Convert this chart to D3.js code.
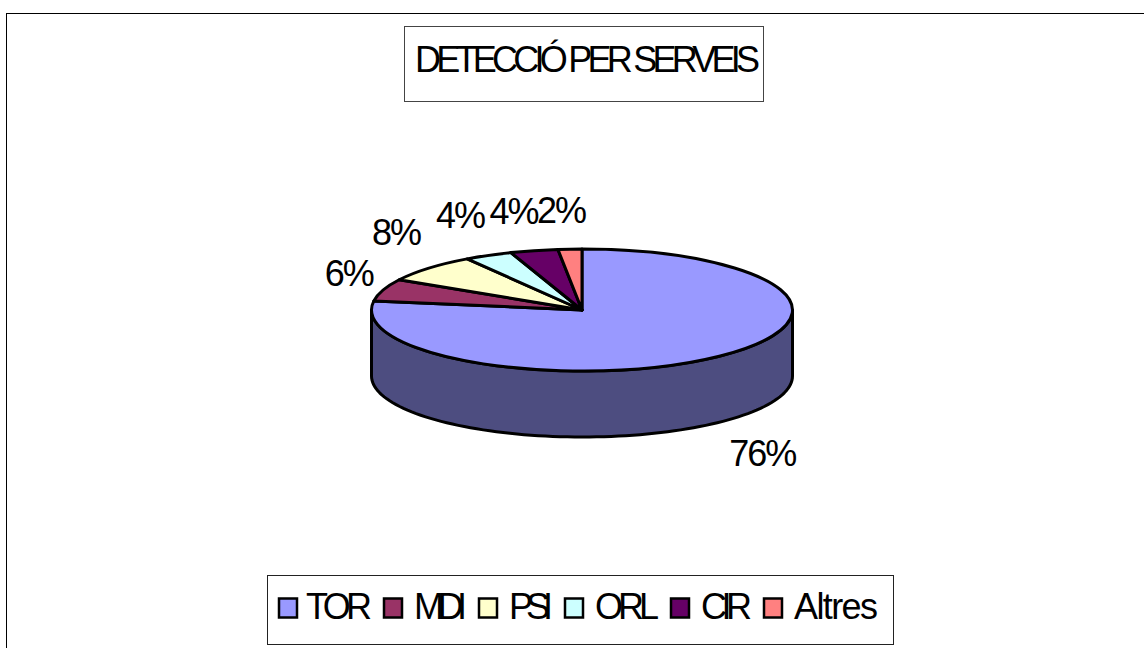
<!DOCTYPE html>
<html>
<head>
<meta charset="utf-8">
<style type="text/css">
    body{
        margin: 0;
        background: #fff;
        overflow: hidden;
    }
    svg{
        display: block;
    }
    text{
        font-family: "Liberation Sans", Arial, sans-serif;
        fill: #000;
    }
</style>
</head>
<body>
<script src="https://d3js.org/d3.v7.min.js"></script>
<script>
var chartTitle = "DETECCIÓ PER SERVEIS";
var services = ["TOR", "MDI", "PSI", "ORL", "CIR", "Altres"];
var shares = [76, 6, 8, 4, 4, 2];
var colors = ["#9999ff", "#993366", "#ffffcc", "#ccffff", "#660066", "#ff8080"];
var wallColor = "#4d4d80";

//the legend words are squeezed unevenly in the original, so each one gets its own length
var legendWidths = [66, 53, 44, 64, 51, 84];

var width = 1144, height = 648;
var cx = 582, cy = 310, rx = 210.5, ry = 61, depth = 66;

var svg = d3.select("body").append("svg")
    .attr("width", width)
    .attr("height", height);

//chart frame runs off the right and bottom of the picture
svg.append("rect")
    .attr("x", 6.5).attr("y", 13.5)
    .attr("width", width + 20).attr("height", height + 20)
    .attr("fill", "#fff").attr("stroke", "#000").attr("stroke-width", 1);

//title box
svg.append("rect")
    .attr("x", 404.5).attr("y", 26.5)
    .attr("width", 359).attr("height", 75)
    .attr("fill", "#fff").attr("stroke", "#444").attr("stroke-width", 1);

svg.append("text")
    .text(chartTitle)
    .attr("x", 415).attr("y", 72)
    .attr("textLength", 345)
    .attr("lengthAdjust", "spacing")
    .style("font-size", "36px");

//the tilted pie is a bit wider towards the viewer, so the angles are pulled that way
var warpAmount = 5 * Math.PI / 180;
function warp(a){ return a - warpAmount * Math.sin(a); }

var pie = d3.pie().sort(null).value(function(d){ return d; });
var slices = pie(shares);

//side wall, front half of the ellipse pushed down
var wallAngles = d3.range(90, 270.5, 2).map(function(d){ return d * Math.PI / 180; });
var wallLine = d3.line()
    .x(function(d){ return cx + rx * Math.sin(d[0]); })
    .y(function(d){ return cy - ry * Math.cos(d[0]) + d[1]; });

var wallPoints = wallAngles.map(function(a){ return [a, depth]; })
    .concat(wallAngles.slice().reverse().map(function(a){ return [a, 0]; }));

svg.append("path")
    .attr("d", wallLine(wallPoints) + "Z")
    .attr("fill", wallColor)
    .attr("stroke", "#000")
    .attr("stroke-width", 3)
    .attr("stroke-linejoin", "round");

//top of the pie, drawn round and squashed
var arc = d3.arc().innerRadius(0).outerRadius(rx)
    .startAngle(function(d){ return warp(d.startAngle); })
    .endAngle(function(d){ return warp(d.endAngle); });

svg.append("g")
    .attr("transform", "translate(" + cx + "," + cy + ") scale(1," + (ry / rx) + ")")
    .selectAll("path")
    .data(slices)
    .enter().append("path")
    .attr("d", arc)
    .attr("fill", function(d, i){ return colors[i]; })
    .attr("stroke", "#000")
    .attr("stroke-width", 3)
    .attr("stroke-linejoin", "round")
    .attr("vector-effect", "non-scaling-stroke");

//percent labels around the pie
function midAngle(d){ return warp((d.startAngle + d.endAngle) / 2); }

svg.selectAll(".pct")
    .data(slices)
    .enter().append("text")
    .classed("pct", true)
    .text(function(d){ return d.data + "%"; })
    .attr("text-anchor", "middle")
    .style("font-size", "36px")
    .style("letter-spacing", "-2px")
    .attr("x", function(d){
        var a = midAngle(d), s = Math.sin(a);
        if(Math.cos(a) < 0) return cx + 248 * s;
        return cx - 245 * Math.pow(Math.abs(s), 0.86);
    })
    .attr("y", function(d){
        var c = Math.cos(midAngle(d));
        if(c < 0) return cy + 12 - 210 * c;
        return cy - 87 + 110 * Math.pow(1 - c, 1.38);
    });

//legend
svg.append("rect")
    .attr("x", 267.5).attr("y", 575.5)
    .attr("width", 626).attr("height", 69)
    .attr("fill", "#fff").attr("stroke", "#222").attr("stroke-width", 1);

var legendX = 279;
services.forEach(function(name, i){
    svg.append("rect")
        .attr("x", legendX).attr("y", 598.5)
        .attr("width", 18).attr("height", 19)
        .attr("fill", colors[i])
        .attr("stroke", "#000")
        .attr("stroke-width", 2.5);

    var textX = legendX + (i == 0 ? 27 : 30);
    svg.append("text")
        .text(name)
        .attr("x", textX).attr("y", 619)
        .attr("textLength", legendWidths[i])
        .attr("lengthAdjust", "spacing")
        .style("font-size", "36px");

    legendX = textX + legendWidths[i] + 12;
});
</script>
</body>
</html>
